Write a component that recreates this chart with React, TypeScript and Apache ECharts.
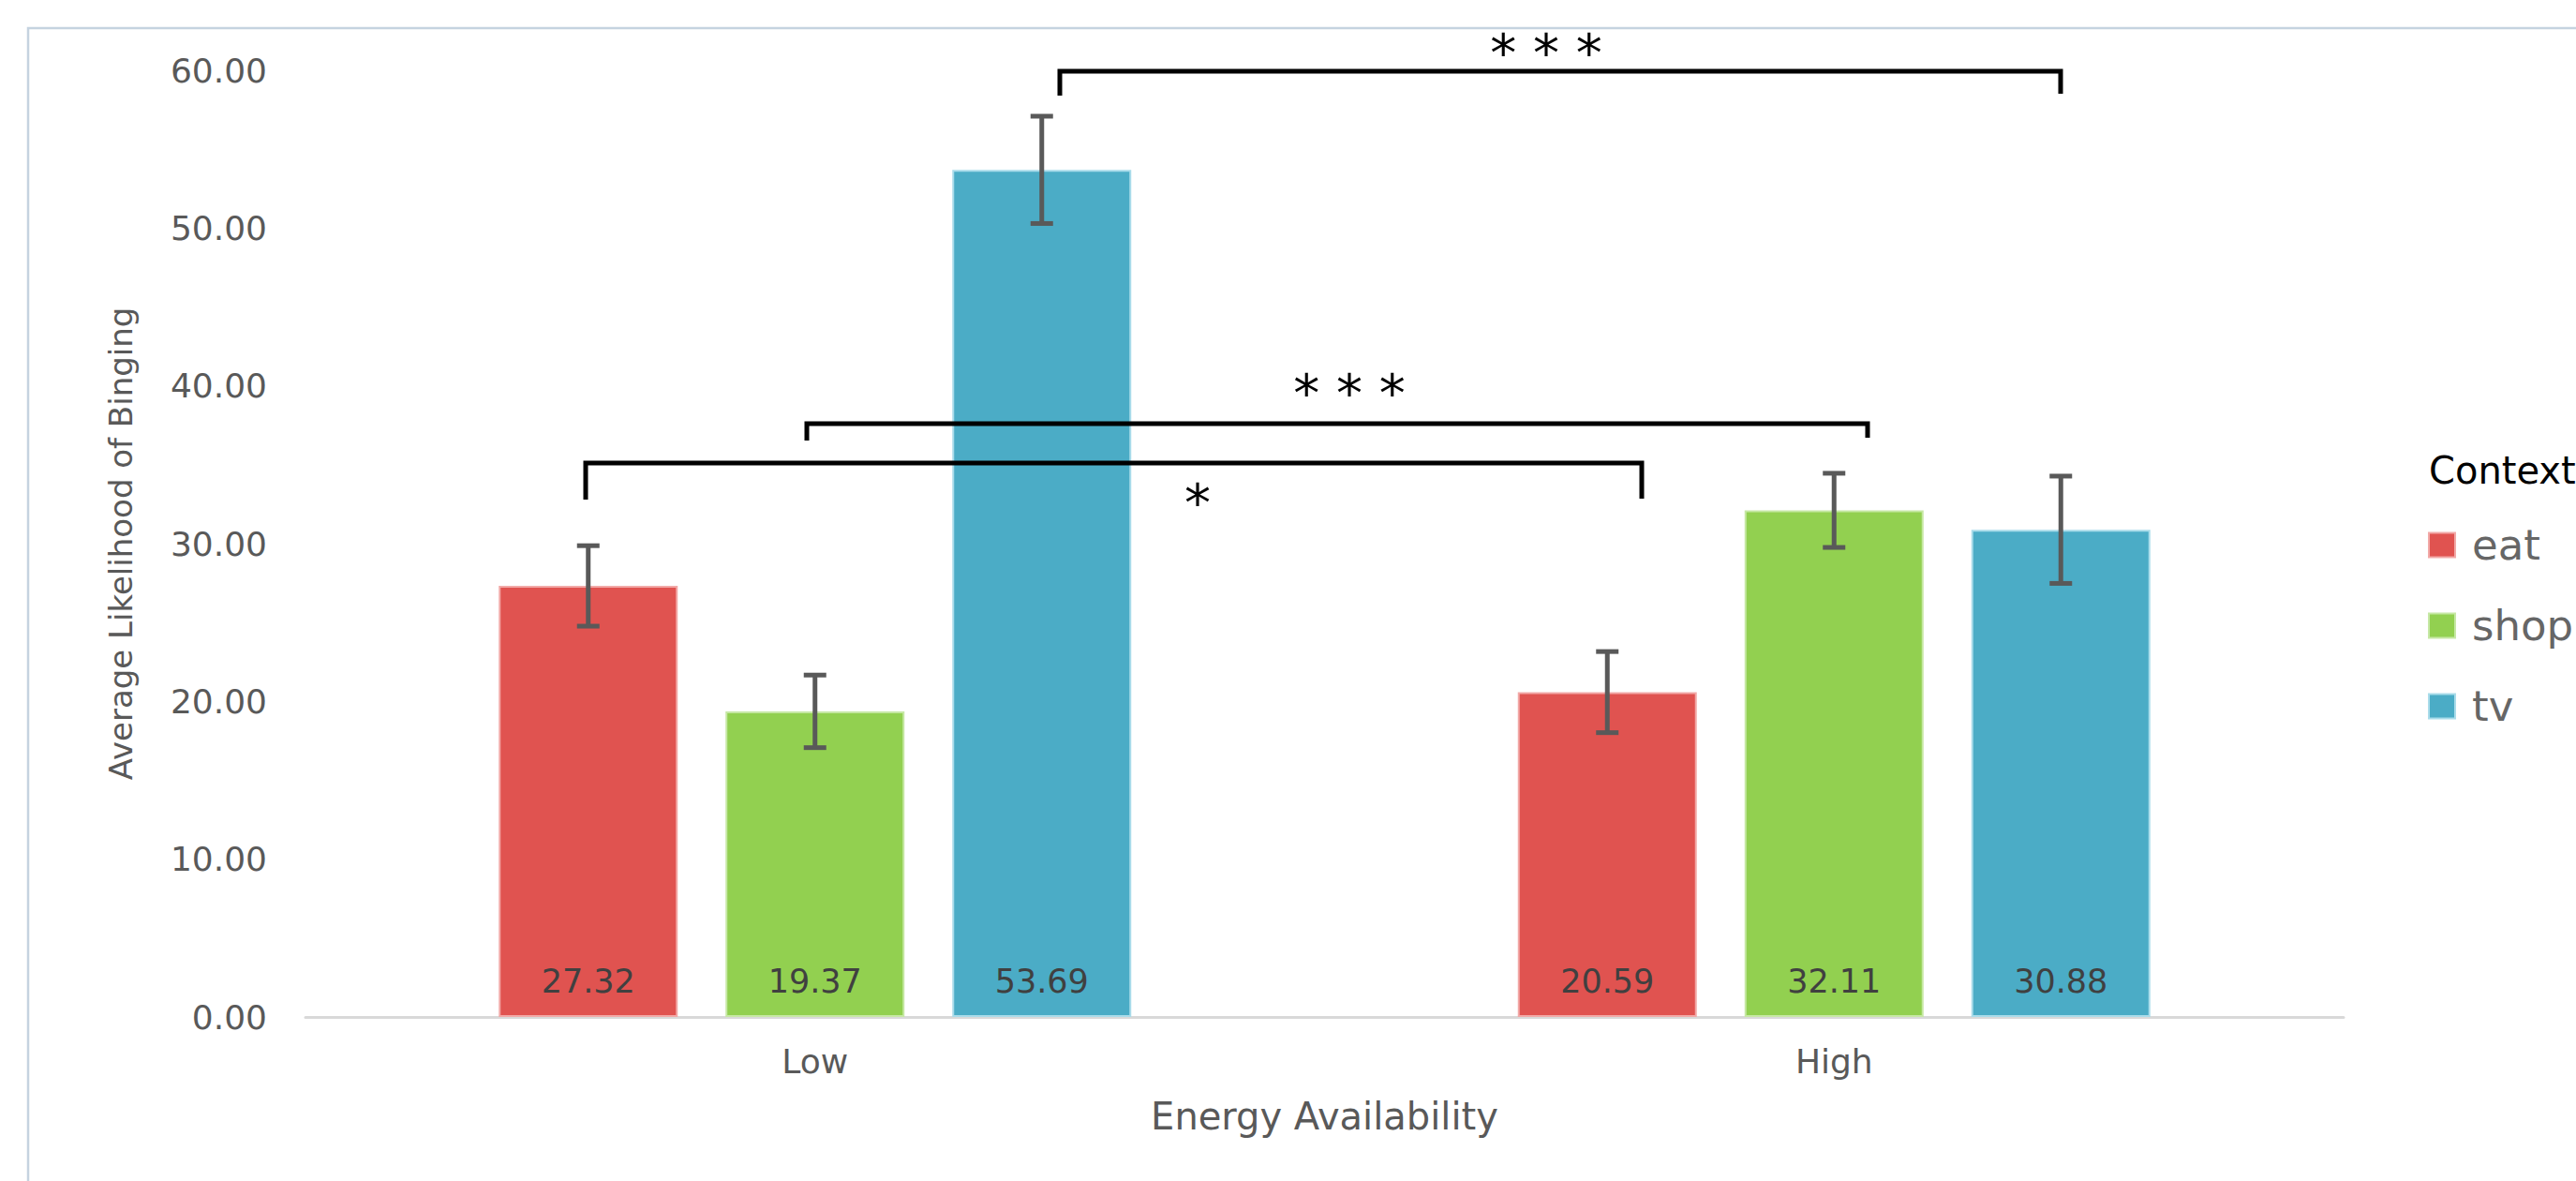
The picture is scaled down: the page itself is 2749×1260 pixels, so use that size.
import React, { useEffect, useRef } from "react";
import * as echarts from "echarts";

const categories = ["Low", "High"];
const contexts = ["eat", "shop", "tv"];
const eatValues = [27.32, 20.59];
const shopValues = [19.37, 32.11];
const tvValues = [53.69, 30.88];
const eatErrors = [2.55, 2.57];
const shopErrors = [2.3, 2.35];
const tvErrors = [3.4, 3.4];
const colors = ["#E05350", "#92D050", "#4BACC6"];
const borderColors = ["#F2A9A7", "#C6E8A4", "#A9DCEA"];

const yMin = 0;
const yMax = 60;
const yInterval = 10;

const xTitle = "Energy Availability";
const yTitle = "Average Likelihood of Binging";
const legendTitle = "Context";

// significance annotations (pixel positions)
const brackets = [
  { points: [[1131, 102], [1131, 76], [2199, 76], [2199, 100]], text: "* * *", tx: 1650, ty: 50 },
  { points: [[861, 470], [861, 452], [1993, 452], [1993, 467]], text: "* * *", tx: 1440, ty: 413 },
  { points: [[625, 533], [625, 494], [1752, 494], [1752, 532]], text: "*", tx: 1278, ty: 530 },
];

const FONT = "DejaVu Sans";
const BAR_W = 191;
const BAR_GAP = 51;

export default function App() {
  const ref = useRef<HTMLDivElement>(null);
  useEffect(() => {
    if (!ref.current) return;
    const chart = echarts.init(ref.current, undefined, { renderer: "svg" });
    const values = [eatValues, shopValues, tvValues];
    const errors = [eatErrors, shopErrors, tvErrors];

    const barSeries = contexts.map((name, i) => ({
      name,
      type: "bar",
      data: values[i],
      barWidth: BAR_W,
      barGap: ((BAR_GAP / BAR_W) * 100).toFixed(1) + "%",
      itemStyle: { color: colors[i], borderColor: borderColors[i], borderWidth: 2 },
      label: {
        show: true,
        position: "insideBottom",
        distance: 21,
        formatter: (p: any) => Number(p.value).toFixed(2),
        color: "#404040",
        fontSize: 35,
        fontFamily: FONT,
      },
      z: 2,
    }));

    const errSeries = contexts.map((name, i) => ({
      name: name + " error",
      type: "custom",
      z: 4,
      data: values[i].map((v, ci) => [ci, v - errors[i][ci], v + errors[i][ci]]),
      renderItem: (params: any, api: any) => {
        const ci = api.value(0);
        const top = api.coord([ci, api.value(2)]);
        const bot = api.coord([ci, api.value(1)]);
        const x = top[0] + (i - 1) * (BAR_W + BAR_GAP);
        const st = { stroke: "#595959", lineWidth: 5 };
        return {
          type: "group",
          children: [
            { type: "line", shape: { x1: x, y1: top[1], x2: x, y2: bot[1] }, style: st },
            { type: "line", shape: { x1: x - 12, y1: top[1], x2: x + 12, y2: top[1] }, style: st },
            { type: "line", shape: { x1: x - 12, y1: bot[1], x2: x + 12, y2: bot[1] }, style: st },
          ],
        };
      },
    }));

    const graphics: any[] = [
      {
        type: "rect",
        shape: { x: 30, y: 30, width: 2900, height: 1400 },
        style: { fill: "none", stroke: "#C5D3E0", lineWidth: 2.5 },
        z: 0,
        silent: true,
      },
    ];
    brackets.forEach((b) => {
      graphics.push({
        type: "polyline",
        shape: { points: b.points },
        style: { stroke: "#000", lineWidth: 5, fill: "none" },
        z: 10,
      });
      graphics.push({
        type: "text",
        x: b.tx,
        y: b.ty + 6,
        style: {
          text: b.text,
          fontSize: 56,
          fontFamily: FONT,
          fill: "#000",
          textAlign: "center",
          textVerticalAlign: "middle",
        },
        z: 10,
      });
    });

    chart.setOption({
      animation: false,
      backgroundColor: "#fff",
      title: {
        text: legendTitle,
        left: 2592,
        top: 482,
        padding: 0,
        textStyle: { fontSize: 40, fontWeight: "normal", color: "#000", fontFamily: FONT },
      },
      legend: {
        data: contexts,
        orient: "vertical",
        left: 2591,
        top: 559,
        padding: 0,
        itemWidth: 28,
        itemHeight: 26,
        itemGap: 41,
        icon: "rect",
        textStyle: { fontSize: 45, color: "#666", fontFamily: FONT, padding: [0, 0, 0, 13] },
      },
      grid: { left: 326, right: 248, top: 75, bottom: 175 },
      xAxis: {
        type: "category",
        data: categories,
        axisLine: { show: true, lineStyle: { color: "#D9D9D9", width: 3 } },
        axisTick: { show: false },
        axisLabel: { fontSize: 36, color: "#595959", fontFamily: FONT, margin: 29 },
        name: xTitle,
        nameLocation: "middle",
        nameGap: 86,
        nameTextStyle: { fontSize: 40, color: "#595959", fontFamily: FONT },
      },
      yAxis: {
        type: "value",
        min: yMin,
        max: yMax,
        interval: yInterval,
        axisLine: { show: false },
        axisTick: { show: false },
        splitLine: { show: false },
        axisLabel: {
          fontSize: 36,
          color: "#595959",
          fontFamily: FONT,
          margin: 41,
          formatter: (v: number) => v.toFixed(2),
        },
        name: yTitle,
        nameLocation: "middle",
        nameGap: 180,
        nameTextStyle: { fontSize: 34, color: "#595959", fontFamily: FONT },
      },
      graphic: graphics,
      series: [...barSeries, ...errSeries],
    });
    return () => chart.dispose();
  }, []);
  return (
    <div
      ref={ref}
      style={{ position: "absolute", left: 0, top: 0, width: 2749, height: 1260 }}
    />
  );
}
